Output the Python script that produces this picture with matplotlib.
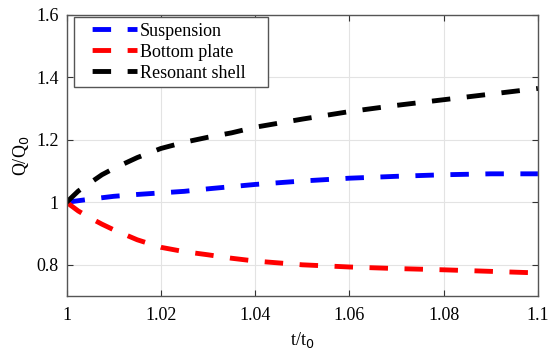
import numpy as np
import matplotlib.pyplot as plt
from matplotlib.lines import Line2D

# values
t = [1.0, 1.0025, 1.005, 1.0075, 1.01, 1.015, 1.02, 1.025, 1.03, 1.035,
     1.04, 1.05, 1.06, 1.07, 1.08, 1.09, 1.1]
suspension = [1.0, 1.005, 1.01, 1.0145, 1.019, 1.025, 1.030, 1.035, 1.043, 1.050,
              1.057, 1.068, 1.077, 1.083, 1.088, 1.091, 1.091]
bottom = [1.0, 0.972, 0.95, 0.93, 0.912, 0.88, 0.856, 0.842, 0.832, 0.821,
          0.812, 0.80, 0.793, 0.788, 0.784, 0.779, 0.774]
shell = [1.0, 1.036, 1.062, 1.088, 1.108, 1.143, 1.172, 1.192, 1.208, 1.222,
         1.240, 1.266, 1.29, 1.31, 1.328, 1.346, 1.364]
labels = ['Suspension', 'Bottom plate', 'Resonant shell']
colors = ['#0000ff', '#ff0000', '#000000']

plt.rcParams['font.family'] = 'Liberation Serif'
plt.rcParams['font.size'] = 13

fig = plt.figure(figsize=(5.5, 3.58), dpi=100)
ax = fig.add_axes([0.121, 0.173, 0.857, 0.786])

lw = 3.5
dash = (3.8, 3.4)
for y, c in zip([suspension, bottom, shell], colors):
    ax.plot(t, y, color=c, lw=lw, dashes=dash, dash_capstyle='butt')

ax.set_xlim(1, 1.1)
ax.set_ylim(0.7, 1.6)
ax.set_xticks([1, 1.02, 1.04, 1.06, 1.08, 1.1])
ax.set_xticklabels(['1', '1.02', '1.04', '1.06', '1.08', '1.1'])
ax.set_yticks([0.8, 1.0, 1.2, 1.4, 1.6])
ax.set_yticklabels(['0.8', '1', '1.2', '1.4', '1.6'])
ax.grid(True, color='#e3e3e3', lw=0.8)
ax.tick_params(direction='in', top=True, right=True, length=4, color='#333333')
ax.tick_params(axis='x', pad=8)
ax.tick_params(axis='y', pad=5.5)
for s in ax.spines.values():
    s.set_color('#555555')
    s.set_linewidth(1.0)

ax.set_xlabel('t/t$_0$', labelpad=4)
ax.set_ylabel('Q/Q$_0$', labelpad=4)

# legend lines look like matlab: gap, long dash, gap, short dash
handles = [Line2D([], [], color=c, lw=lw, linestyle=(4.5, dash), dash_capstyle='butt')
           for c in colors]
leg = ax.legend(handles, labels, loc='upper left',
                bbox_to_anchor=(0.0155, 0.5, 0.4116, 0.4908), mode='expand',
                borderaxespad=0, fancybox=False, framealpha=1, edgecolor='#555555',
                handlelength=3.17, labelspacing=0.22, borderpad=0.3, handletextpad=0.2)
leg.get_frame().set_linewidth(1.0)

plt.savefig('out.png', dpi=100)
